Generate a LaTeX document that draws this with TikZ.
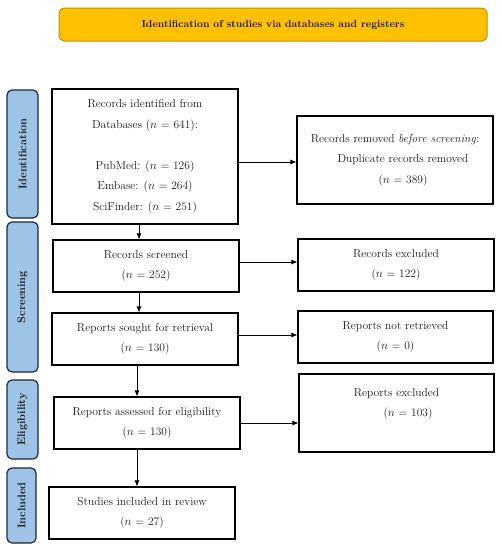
\documentclass[tikz,border=0pt]{standalone}
\usetikzlibrary{arrows.meta}
\definecolor{bannerfill}{HTML}{FFC000}
\definecolor{bannerline}{HTML}{B8900A}
\definecolor{sidefill}{HTML}{9DC3E6}
\definecolor{sideline}{HTML}{1F2A36}
\definecolor{txt}{HTML}{1A1A1A}
\begin{document}
\begin{tikzpicture}[x=1pt,y=-1pt,
  box/.style={draw=black, line width=1.1pt, fill=white, inner sep=0pt, align=center, text=txt,
    font=\fontsize{11.5}{20.5}\selectfont},
  side/.style={draw=sideline, line width=1.2pt, fill=sidefill, rounded corners=5pt, inner sep=0pt},
  sidetext/.style={rotate=90, text=txt, font=\bfseries\fontsize{11}{12}\selectfont},
  arr/.style={draw=black, line width=0.8pt, -{Latex[length=6pt,width=5pt]}}]
\useasboundingbox (0,0) rectangle (502,550);
\fill[white] (0,0) rectangle (502,550);
% banner
\node[draw=bannerline, line width=1pt, fill=bannerfill, rounded corners=5pt, minimum width=428pt, minimum height=33pt,
  inner sep=0pt, font=\bfseries\fontsize{10.2}{12}\selectfont, text=txt] (banner) at (273,24.5)
  {Identification of studies via databases and registers};
% side labels
\node[side, minimum width=31pt, minimum height=128pt] (s1) at (22.5,154) {};
\node[sidetext] (s1t) at (s1.center) {Identification};
\node[side, minimum width=31pt, minimum height=150pt] (s2) at (22.5,297) {};
\node[sidetext] (s2t) at (s2.center) {Screening};
\node[side, minimum width=31pt, minimum height=79pt] (s3) at (22.5,419.5) {};
\node[sidetext] (s3t) at (s3.center) {Eligibility};
\node[side, minimum width=29pt, minimum height=75pt] (s4) at (21.5,505.5) {};
\node[sidetext] (s4t) at (s4.center) {Included};
% main boxes
\node[box, minimum width=186pt, minimum height=135pt] (b1) at (145,156.5)
  {Records identified from\\ Databases ($n$ = 641):\\ \mbox{}\\ PubMed: ($n$ = 126)\\ Embase: ($n$ = 264)\\ SciFinder: ($n$ = 251)};
\node[box, minimum width=186pt, minimum height=52pt] (b2) at (146,266)
  {Records screened\\ ($n$ = 252)};
\node[box, minimum width=186pt, minimum height=52pt] (b3) at (145,339)
  {Reports sought for retrieval\\ ($n$ = 130)};
\node[box, minimum width=186pt, minimum height=52pt] (b4) at (147,423)
  {Reports assessed for eligibility\\ ($n$ = 130)};
\node[box, minimum width=186pt, minimum height=52pt] (b5) at (142,513)
  {Studies included in review\\ ($n$ = 27)};
% right boxes
\node[box, minimum width=196pt, minimum height=88pt] (r1) at (395,160)
  {Records removed \textit{before screening}:\\ \hspace*{16pt}Duplicate records removed\\ \hspace*{16pt}($n$ = 389)};
\node[box, minimum width=196pt, minimum height=52pt] (r2) at (396,265)
  {Records excluded\\ ($n$ = 122)};
\node[box, minimum width=195pt, minimum height=52pt] (r3) at (395.5,337)
  {Reports not retrieved\\ ($n$ = 0)};
\node[box, minimum width=195pt, minimum height=78pt] (r4) at (396.5,413)
  {Reports excluded\\ \hspace*{23pt}($n$ = 103)\\ \mbox{}};
% vertical arrows
\draw[arr] (b1.south -| 139,0) -- (b2.north -| 139,0);
\draw[arr] (b2.south -| 139,0) -- (b3.north -| 139,0);
\draw[arr] (b3.south -| 137,0) -- (b4.north -| 137,0);
\draw[arr] (b4.south -| 137,0) -- (b5.north -| 137,0);
% horizontal arrows
\draw[arr] (b1.east |- 0,162) -- (r1.west |- 0,162);
\draw[arr] (b2.east |- 0,262) -- (r2.west |- 0,262);
\draw[arr] (b3.east |- 0,335) -- (r3.west |- 0,335);
\draw[arr] (b4.east) -- (b4.east -| r4.west);
\end{tikzpicture}
\end{document}
